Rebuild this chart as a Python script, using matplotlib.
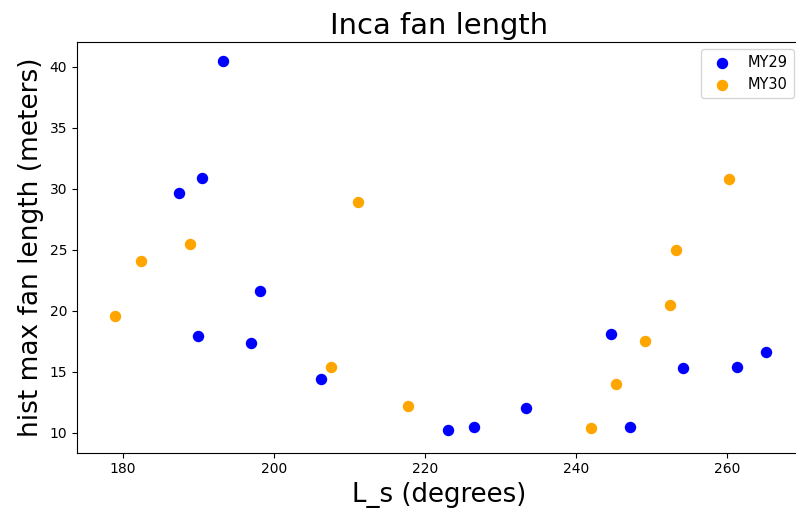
import matplotlib
matplotlib.use("Agg")
import matplotlib.pyplot as plt

my29_ls = [193.3, 187.4, 190.5, 189.9, 197.0, 198.2, 206.3, 223.1, 226.5, 233.4, 244.6, 247.1, 254.2, 261.3, 265.1]
my29_len = [40.5, 29.7, 30.9, 17.9, 17.4, 21.6, 14.4, 10.2, 10.5, 12.05, 18.07, 10.5, 15.3, 15.4, 16.6]

my30_ls = [178.9, 182.4, 188.9, 211.2, 207.6, 217.8, 242.0, 245.3, 249.1, 252.5, 253.3, 260.3]
my30_len = [19.6, 24.05, 25.5, 28.9, 15.4, 12.2, 10.4, 13.97, 17.5, 20.5, 25.0, 30.8]

fig = plt.figure(figsize=(7.96, 5.11), dpi=100)
ax = fig.add_axes([0.0964, 0.114, 0.9100, 0.804])

ax.scatter(my29_ls, my29_len, s=52, color="blue", label="MY29")
ax.scatter(my30_ls, my30_len, s=52, color="orange", label="MY30")

ax.set_xlim(173.9, 269.8)
ax.set_ylim(8.36, 42.05)
ax.set_xticks([180, 200, 220, 240, 260])
ax.set_yticks([10, 15, 20, 25, 30, 35, 40])
ax.tick_params(labelsize=10)

ax.set_title("Inca fan length", fontsize=20.9)
ax.set_xlabel("L_s (degrees)", fontsize=18.7)
ax.set_ylabel("hist max fan length (meters)", fontsize=19)
ax.legend(loc="upper right", fontsize=10.5)

fig.savefig("out.png", dpi=100)
